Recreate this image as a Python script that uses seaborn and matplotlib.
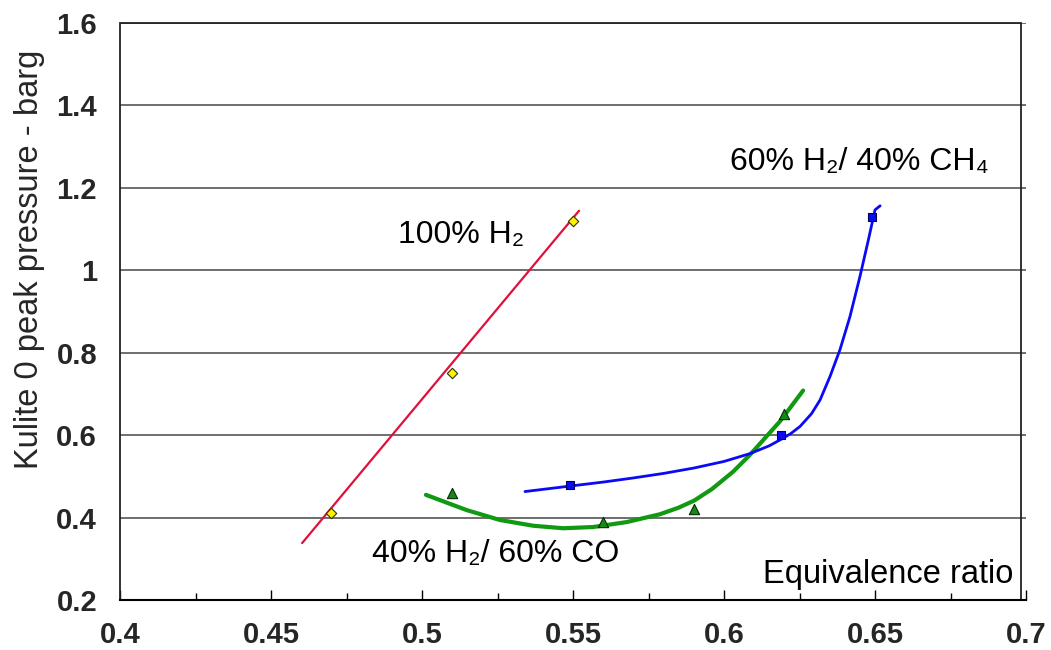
import numpy as np
import pandas as pd
import matplotlib
matplotlib.use("Agg")
import matplotlib.pyplot as plt
from matplotlib.patches import Rectangle
from matplotlib.ticker import MultipleLocator, FixedLocator
import seaborn as sns

# Measured peak pressures (barg) against equivalence ratio
h2_phi = [0.47, 0.51, 0.55]
h2_p = [0.41, 0.75, 1.12]

co_phi = [0.51, 0.56, 0.59, 0.62]
co_p = [0.46, 0.39, 0.42, 0.65]

ch4_phi = [0.549, 0.619, 0.649]
ch4_p = [0.48, 0.60, 1.13]

# Trend lines through each fuel mixture
h2_fit_phi = [0.4603, 0.552]
h2_fit_p = [0.338, 1.144]

co_fit_phi = [0.5013, 0.5148, 0.5258, 0.5369, 0.5468, 0.5567, 0.5678,
              0.5788, 0.5850, 0.5901, 0.5960, 0.6030, 0.6086, 0.6185,
              0.6262]
co_fit_p = [0.455, 0.418, 0.394, 0.380, 0.374, 0.377, 0.389,
            0.408, 0.424, 0.441, 0.469, 0.511, 0.552, 0.633,
            0.708]

ch4_fit_phi = [0.5341, 0.5487, 0.5600, 0.5700, 0.5800, 0.5900, 0.6000,
               0.6086, 0.6150, 0.6185, 0.6220, 0.6252, 0.6290, 0.6318,
               0.6351, 0.6384, 0.6417, 0.6450, 0.6478, 0.6500, 0.6517]
ch4_fit_p = [0.463, 0.476, 0.486, 0.496, 0.507, 0.520, 0.536,
             0.555, 0.574, 0.588, 0.603, 0.621, 0.652, 0.685,
             0.742, 0.807, 0.887, 0.984, 1.073, 1.146, 1.156]

x_ticks = [0.4, 0.45, 0.5, 0.55, 0.6, 0.65, 0.7]
x_tick_labels = ["0.4", "0.45", "0.5", "0.55", "0.6", "0.65", "0.7"]
y_ticks = [0.2, 0.4, 0.6, 0.8, 1.0, 1.2, 1.4, 1.6]
y_tick_labels = ["0.2", "0.4", "0.6", "0.8", "1", "1.2", "1.4", "1.6"]

sns.set_theme(style="white")
plt.rcParams["font.family"] = ["Liberation Sans", "DejaVu Sans"]

fig = plt.figure(figsize=(10.51, 6.5), dpi=100)
ax = fig.add_axes([120 / 1051, 50 / 650, 906 / 1051, 577.3 / 650])

ax.set_xlim(0.4, 0.7)
ax.set_ylim(0.2, 1.6)

# horizontal grid
for y in y_ticks:
    ax.axhline(y, color="#555555", lw=1.2, zorder=1)

# plot-area frame (stops just short of the right axis limit)
ax.add_patch(Rectangle((0, 0), 901 / 906, 1, transform=ax.transAxes,
                       fill=False, edgecolor="#222222", lw=1.3,
                       clip_on=False, zorder=2))

fit_h2 = pd.DataFrame({"phi": h2_fit_phi, "p": h2_fit_p})
fit_co = pd.DataFrame({"phi": co_fit_phi, "p": co_fit_p})
fit_ch4 = pd.DataFrame({"phi": ch4_fit_phi, "p": ch4_fit_p})

sns.lineplot(data=fit_h2, x="phi", y="p", ax=ax, color="#E0103C", lw=1.6,
             sort=False, estimator=None, zorder=3)
sns.lineplot(data=fit_co, x="phi", y="p", ax=ax, color="#119A11", lw=3.0,
             sort=False, estimator=None, zorder=3)
sns.lineplot(data=fit_ch4, x="phi", y="p", ax=ax, color="#0A0AF5", lw=2.0,
             sort=False, estimator=None, zorder=3)

pts_h2 = pd.DataFrame({"phi": h2_phi, "p": h2_p})
pts_co = pd.DataFrame({"phi": co_phi, "p": co_p})
pts_ch4 = pd.DataFrame({"phi": ch4_phi, "p": ch4_p})

sns.scatterplot(data=pts_h2, x="phi", y="p", ax=ax, marker="D", s=28,
                color="#FFF200", edgecolor="#333300", linewidth=0.8, zorder=4)
sns.scatterplot(data=pts_co, x="phi", y="p", ax=ax, marker="^", s=55,
                color="#138A13", edgecolor="#0A2A0A", linewidth=0.8, zorder=4)
sns.scatterplot(data=pts_ch4, x="phi", y="p", ax=ax, marker="s", s=26,
                color="#0A0AF5", edgecolor="#000060", linewidth=0.8, zorder=4)

# series labels
txt = dict(fontsize=23, ha="left", va="baseline", color="black", zorder=5)
ax.text(0.492, 1.0668, "100% H\u2082", **txt)
ax.text(0.602, 1.2436, "60% H\u2082/ 40% CH\u2084", **txt)
ax.text(0.4834, 0.2922, "40% H\u2082/ 60% CO", **txt)
ax.text(0.6957, 0.2412, "Equivalence ratio", fontsize=23.5, ha="right",
        va="baseline", color="black", zorder=5)

# axes styling
for side in ["left", "top", "right"]:
    ax.spines[side].set_visible(False)
ax.spines["bottom"].set_color("black")
ax.spines["bottom"].set_linewidth(1.5)
ax.spines["bottom"].set_zorder(6)

ax.xaxis.set_major_locator(FixedLocator(x_ticks))
ax.xaxis.set_minor_locator(MultipleLocator(0.025))
ax.set_xticks(x_ticks)
ax.set_xticklabels(x_tick_labels)
ax.set_yticks(y_ticks)
ax.set_yticklabels(y_tick_labels)

ax.tick_params(axis="x", which="major", direction="in", length=7.5, width=1,
               color="black", pad=15, labelsize=21, bottom=True)
ax.tick_params(axis="x", which="minor", direction="in", length=5, width=1,
               color="black", bottom=True)
ax.tick_params(axis="y", length=0, pad=16.5, labelsize=21, left=True)
for lab in ax.get_xticklabels() + ax.get_yticklabels():
    lab.set_fontweight("bold")

ax.set_xlabel("")
ax.set_ylabel("")
fig.text(30 / 1051, 1 - 259 / 650, "Kulite 0 peak pressure - barg",
         rotation=90, ha="center", va="center", fontsize=23.5)

fig.savefig("out.png", dpi=100)
